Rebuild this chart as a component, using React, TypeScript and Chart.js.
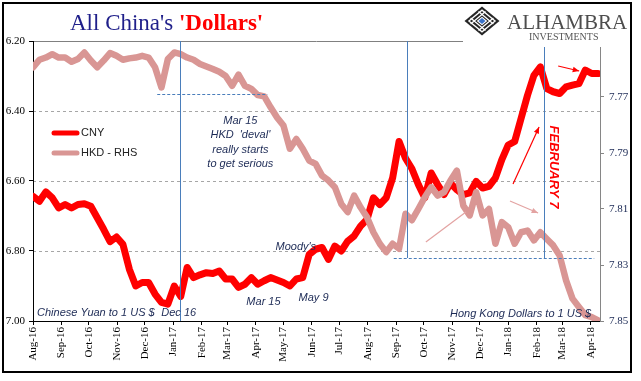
import React, { useEffect, useRef } from 'react';
import { Chart, registerables } from 'chart.js';
Chart.register(...registerables);

// ---------- DATA ----------
const weekDates = [
  '2016-08-01','2016-08-08','2016-08-15','2016-08-22','2016-08-29',
  '2016-09-05','2016-09-12','2016-09-19','2016-09-26',
  '2016-10-03','2016-10-10','2016-10-17','2016-10-24','2016-10-31',
  '2016-11-07','2016-11-14','2016-11-21','2016-11-28',
  '2016-12-05','2016-12-12','2016-12-19','2016-12-26',
  '2017-01-02','2017-01-09','2017-01-16','2017-01-23','2017-01-30',
  '2017-02-06','2017-02-13','2017-02-20','2017-02-27',
  '2017-03-06','2017-03-13','2017-03-20','2017-03-27',
  '2017-04-03','2017-04-10','2017-04-17','2017-04-24',
  '2017-05-01','2017-05-08','2017-05-15','2017-05-22','2017-05-29',
  '2017-06-05','2017-06-12','2017-06-19','2017-06-26',
  '2017-07-03','2017-07-10','2017-07-17','2017-07-24','2017-07-31',
  '2017-08-07','2017-08-14','2017-08-21','2017-08-28',
  '2017-09-04','2017-09-11','2017-09-18','2017-09-25',
  '2017-10-02','2017-10-09','2017-10-16','2017-10-23','2017-10-30',
  '2017-11-06','2017-11-13','2017-11-20','2017-11-27',
  '2017-12-04','2017-12-11','2017-12-18','2017-12-25',
  '2018-01-01','2018-01-08','2018-01-15','2018-01-22','2018-01-29',
  '2018-02-05','2018-02-12','2018-02-19','2018-02-26',
  '2018-03-05','2018-03-12','2018-03-19','2018-03-26',
  '2018-04-02','2018-04-09',
];

const cnyValues = [
  6.644, 6.658, 6.631, 6.648, 6.677,
  6.667, 6.677, 6.667, 6.665,
  6.672, 6.705, 6.738, 6.773, 6.760,
  6.781, 6.852, 6.900, 6.890,
  6.890, 6.923, 6.947, 6.952,
  6.900, 6.930, 6.847, 6.876, 6.868,
  6.862, 6.864, 6.857, 6.880,
  6.880, 6.904, 6.895, 6.876,
  6.895, 6.885, 6.876, 6.883,
  6.890, 6.900, 6.880, 6.876, 6.810,
  6.795, 6.790, 6.824, 6.786,
  6.800, 6.772, 6.757, 6.729, 6.710,
  6.648, 6.667, 6.648, 6.591,
  6.487, 6.535, 6.565, 6.610,
  6.648, 6.577, 6.610, 6.639, 6.606,
  6.625, 6.639, 6.634, 6.601,
  6.620, 6.615, 6.591, 6.539,
  6.497, 6.487, 6.421, 6.355, 6.298,
  6.274, 6.336, 6.345, 6.350,
  6.331, 6.326, 6.322, 6.283,
  6.293, 6.293,
];

const hkdValues = [
  7.7594, 7.7567, 7.7559, 7.7547, 7.7559,
  7.7559, 7.7574, 7.7564, 7.7541,
  7.7570, 7.7594, 7.7570, 7.7543, 7.7553,
  7.7567, 7.7562, 7.7559, 7.7553,
  7.7559, 7.7594, 7.7666, 7.7564,
  7.7541, 7.7547, 7.7559, 7.7567, 7.7582,
  7.7591, 7.7600, 7.7610, 7.7625,
  7.7660, 7.7620, 7.7660, 7.7671,
  7.7693, 7.7698, 7.7737, 7.7773,
  7.7802, 7.7885, 7.7850, 7.7885, 7.7927,
  7.7939, 7.7981, 7.7998, 7.8022,
  7.8082, 7.8111, 7.8052, 7.8094, 7.8129,
  7.8183, 7.8224, 7.8254, 7.8224,
  7.8242, 7.8117, 7.8140, 7.8100,
  7.8058, 7.8022, 7.8052, 7.8040, 7.7998,
  7.7963, 7.8088, 7.8123, 7.8040,
  7.8123, 7.8100, 7.8224, 7.8147,
  7.8165, 7.8224, 7.8183, 7.8177, 7.8212,
  7.8183, 7.8207, 7.8230, 7.8266,
  7.8355, 7.8420, 7.8450, 7.8479,
  7.8486, 7.8498,
];

const monthTickDates = [
  '2016-08-01','2016-09-01','2016-10-01','2016-11-01','2016-12-01',
  '2017-01-01','2017-02-01','2017-03-01','2017-04-01','2017-05-01','2017-06-01',
  '2017-07-01','2017-08-01','2017-09-01','2017-10-01','2017-11-01','2017-12-01',
  '2018-01-01','2018-02-01','2018-03-01','2018-04-01',
];
const monthLabels = [
  'Aug-16','Sep-16','Oct-16','Nov-16','Dec-16',
  'Jan-17','Feb-17','Mar-17','Apr-17','May-17','Jun-17',
  'Jul-17','Aug-17','Sep-17','Oct-17','Nov-17','Dec-17',
  'Jan-18','Feb-18','Mar-18','Apr-18',
];
const leftTicks = [6.2, 6.4, 6.6, 6.8, 7.0];
const leftDashedGrid = [6.4, 6.6, 6.8];
const rightTicks = [7.77, 7.79, 7.81, 7.83, 7.85];

const AXIS_START = '2016-08-01';
const AXIS_END = '2018-04-11';

// ---------- helpers ----------
const ORIGIN = Date.UTC(2016, 7, 1);
function dayOf(iso: string): number {
  const [y, m, d] = iso.split('-').map(Number);
  return (Date.UTC(y, m - 1, d) - ORIGIN) / 86400000;
}

const SERIF = "'Liberation Serif', 'Times New Roman', serif";
const SANS = "'Liberation Sans', Arial, sans-serif";
const BLUE = '#4a7ebb';
const NAVY = '#1c2a55';
const RED = '#ff0000';
const PINK = '#d99694';

function arrow(ctx: CanvasRenderingContext2D, x1: number, y1: number, x2: number, y2: number, color: string, head: number) {
  ctx.save();
  ctx.strokeStyle = color;
  ctx.fillStyle = color;
  ctx.lineWidth = 1.2;
  ctx.beginPath();
  ctx.moveTo(x1, y1);
  ctx.lineTo(x2, y2);
  ctx.stroke();
  if (head > 0) {
    const ang = Math.atan2(y2 - y1, x2 - x1);
    ctx.beginPath();
    ctx.moveTo(x2, y2);
    ctx.lineTo(x2 - head * Math.cos(ang - 0.4), y2 - head * Math.sin(ang - 0.4));
    ctx.lineTo(x2 - head * Math.cos(ang + 0.4), y2 - head * Math.sin(ang + 0.4));
    ctx.closePath();
    ctx.fill();
  }
  ctx.restore();
}

function drawLogo(ctx: CanvasRenderingContext2D) {
  ctx.save();
  ctx.fillStyle = '#fff';
  ctx.fillRect(463, 4, 167, 43);
  const cx = 482, cy = 21, hw = 17.5, hh = 14.5;
  const pt = (u: number, v: number): [number, number] => [cx + ((u + v) / 2) * hw, cy + ((u - v) / 2) * hh];
  const diamond = (s: number) => {
    ctx.beginPath();
    const p = [pt(s, s), pt(s, -s), pt(-s, -s), pt(-s, s)];
    ctx.moveTo(p[0][0], p[0][1]);
    for (let i = 1; i < 4; i++) ctx.lineTo(p[i][0], p[i][1]);
    ctx.closePath();
  };
  ctx.fillStyle = '#262626';
  diamond(1);
  ctx.fill();
  ctx.strokeStyle = '#fff';
  ctx.lineWidth = 1.3;
  for (const t of [-0.45, 0.45]) {
    ctx.beginPath();
    let a = pt(t, -0.85), b = pt(t, 0.85);
    ctx.moveTo(a[0], a[1]); ctx.lineTo(b[0], b[1]);
    a = pt(-0.85, t); b = pt(0.85, t);
    ctx.moveTo(a[0], a[1]); ctx.lineTo(b[0], b[1]);
    ctx.stroke();
  }
  diamond(0.75); ctx.stroke();
  ctx.fillStyle = '#fff';
  diamond(0.3); ctx.fill();
  ctx.fillStyle = '#3a72c8';
  diamond(0.2); ctx.fill();

  ctx.fillStyle = '#4d4d4d';
  ctx.textBaseline = 'alphabetic';
  ctx.textAlign = 'left';
  ctx.font = `21px ${SERIF}`;
  ctx.fillText('ALHAMBRA', 507, 28.5);
  ctx.font = `10px ${SERIF}`;
  ctx.fillStyle = '#555';
  ctx.fillText('INVESTMENTS', 529, 40);
  ctx.restore();
}

const overlayPlugin = {
  id: 'overlay',
  beforeDraw(chart: any) {
    const { ctx, width, height, chartArea: a, scales } = chart;
    ctx.save();
    ctx.fillStyle = '#fff';
    ctx.fillRect(0, 0, width, height);
    ctx.strokeStyle = '#a6a6a6';
    ctx.lineWidth = 1;
    ctx.setLineDash([3, 3]);
    for (const v of leftDashedGrid) {
      const py = Math.round(scales.y.getPixelForValue(v)) + 0.5;
      ctx.beginPath();
      ctx.moveTo(a.left, py);
      ctx.lineTo(a.right, py);
      ctx.stroke();
    }
    ctx.setLineDash([]);
    ctx.strokeStyle = '#808080';
    const pt = Math.round(scales.y.getPixelForValue(leftTicks[0])) + 0.5;
    ctx.beginPath();
    ctx.moveTo(a.left, pt);
    ctx.lineTo(a.right, pt);
    ctx.stroke();
    ctx.restore();
  },
  afterDatasetsDraw(chart: any) {
    const { ctx, chartArea: a, scales } = chart;
    const X = (d: number) => scales.x.getPixelForValue(d);
    const YC = (v: number) => scales.y.getPixelForValue(v);
    const YH = (v: number) => scales.y2.getPixelForValue(v);
    ctx.save();
    // blue reference lines
    ctx.strokeStyle = BLUE;
    ctx.lineWidth = 1;
    const vline = (d: number, y1: number, y2: number) => {
      const px = Math.round(X(d)) + 0.5;
      ctx.beginPath(); ctx.moveTo(px, y1); ctx.lineTo(px, y2); ctx.stroke();
    };
    vline(160.6, a.top, a.bottom);
    vline(408, a.top, YH(7.8275));
    vline(557, a.top, YH(7.8275));
    ctx.setLineDash([3, 2]);
    const hline = (v: number, d1: number, d2: number) => {
      const py = Math.round(YH(v)) + 0.5;
      ctx.beginPath(); ctx.moveTo(X(d1), py); ctx.lineTo(X(d2), py); ctx.stroke();
    };
    hline(7.7689, 135.4, 255.6);
    hline(7.8275, 393.2, 611.7);
    ctx.setLineDash([]);

    // arrows
    arrow(ctx, X(572.4), YC(6.2714), X(595.3), YC(6.2857), RED, 7);
    arrow(ctx, X(523.2), YC(6.6086), X(551.6), YC(6.4457), RED, 7);
    arrow(ctx, X(519.9), YC(6.6571), X(550.5), YC(6.6914), '#e3a3a2', 7);
    arrow(ctx, X(428.2), YC(6.7743), X(471.9), YC(6.6886), '#e3a3a2', 0);

    // annotation texts
    ctx.fillStyle = NAVY;
    ctx.font = `italic 11px ${SANS}`;
    ctx.textBaseline = 'middle';
    ctx.textAlign = 'center';
    const block = ['Mar 15', "HKD  'deval'", 'really starts', 'to get serious'];
    const blockY = [6.4286, 6.4686, 6.5114, 6.5514];
    block.forEach((t, i) => ctx.fillText(t, X(226), YC(blockY[i])));
    ctx.fillText('Mar 15', X(251.2), YC(6.9457));
    ctx.fillText('May 9', X(305.8), YC(6.9343));
    ctx.textAlign = 'left';
    ctx.fillText("Moody's", X(264.3), YC(6.7886));
    ctx.fillText('Chinese Yuan to 1 US $', X(4.4), YC(6.977));
    ctx.fillText('Dec 16', X(139.8), YC(6.977));
    ctx.textAlign = 'right';
    ctx.fillText('Hong Kong Dollars to 1 US $', X(608.4), YC(6.98));

    // FEBRUARY 7
    ctx.save();
    ctx.translate(X(566.9), YC(6.56));
    ctx.rotate(Math.PI / 2);
    ctx.textAlign = 'center';
    ctx.textBaseline = 'middle';
    ctx.fillStyle = RED;
    ctx.font = `italic bold 13px ${SANS}`;
    ctx.fillText('FEBRUARY 7', 0, 0);
    ctx.restore();
    ctx.restore();
  },
  afterDraw(chart: any) {
    const { ctx } = chart;
    ctx.save();
    drawLogo(ctx);

    // title
    ctx.textBaseline = 'alphabetic';
    ctx.textAlign = 'left';
    ctx.font = `23px ${SERIF}`;
    ctx.fillStyle = '#1f1f8a';
    const p1 = "All China's ";
    ctx.fillText(p1, 70, 30);
    const w1 = ctx.measureText(p1).width;
    ctx.font = `bold 23px ${SERIF}`;
    ctx.fillStyle = RED;
    ctx.fillText("'Dollars'", 70 + w1, 30);

    // legend
    ctx.lineCap = 'round';
    ctx.lineWidth = 5;
    ctx.strokeStyle = RED;
    ctx.beginPath(); ctx.moveTo(54, 133); ctx.lineTo(77, 133); ctx.stroke();
    ctx.strokeStyle = PINK;
    ctx.beginPath(); ctx.moveTo(54, 153); ctx.lineTo(77, 153); ctx.stroke();
    ctx.fillStyle = '#222';
    ctx.font = `11px ${SANS}`;
    ctx.textBaseline = 'middle';
    ctx.fillText('CNY', 81, 133);
    ctx.fillText('HKD - RHS', 81, 153);

    // frame
    ctx.lineCap = 'butt';
    ctx.strokeStyle = '#000';
    ctx.lineWidth = 2;
    ctx.strokeRect(3, 3, 628, 369);
    ctx.restore();
  },
};

export default function App() {
  const ref = useRef<HTMLCanvasElement | null>(null);
  useEffect(() => {
    if (!ref.current) return;
    const chart = new Chart(ref.current, {
      type: 'line',
      data: {
        datasets: [
          {
            label: 'CNY',
            data: weekDates.map((d, i) => ({ x: dayOf(d), y: cnyValues[i] })),
            yAxisID: 'y',
            borderColor: RED,
            backgroundColor: RED,
            borderWidth: 7,
            pointRadius: 0,
            tension: 0,
            borderJoinStyle: 'round',
            borderCapStyle: 'round',
            order: 2,
          },
          {
            label: 'HKD - RHS',
            data: weekDates.map((d, i) => ({ x: dayOf(d), y: hkdValues[i] })),
            yAxisID: 'y2',
            borderColor: PINK,
            backgroundColor: PINK,
            borderWidth: 6.5,
            pointRadius: 0,
            tension: 0,
            borderJoinStyle: 'round',
            borderCapStyle: 'round',
            order: 1,
          },
        ],
      },
      options: {
        responsive: false,
        animation: false,
        events: [],
        layout: { padding: { top: 41, left: 0, right: 0, bottom: 0 } },
        plugins: { legend: { display: false }, tooltip: { enabled: false }, title: { display: false } },
        scales: {
          x: {
            type: 'linear',
            position: 'bottom',
            min: dayOf(AXIS_START),
            max: dayOf(AXIS_END),
            afterBuildTicks: (s: any) => { s.ticks = monthTickDates.map((d) => ({ value: dayOf(d) })); },
            afterFit: (s: any) => { s.height = 60; },
            grid: { drawOnChartArea: false, drawTicks: true, tickLength: 4, color: '#000' },
            border: { display: true, color: '#000', width: 1 },
            ticks: {
              autoSkip: false,
              minRotation: 90,
              maxRotation: 90,
              padding: 2,
              color: '#000',
              font: { family: SERIF, size: 11 },
              callback: (_v: any, i: number) => monthLabels[i],
            },
          },
          y: {
            type: 'linear',
            position: 'left',
            reverse: true,
            min: 6.2,
            max: 7.0,
            afterBuildTicks: (s: any) => { s.ticks = leftTicks.map((v) => ({ value: v })); },
            afterFit: (s: any) => { s.width = 33; },
            grid: { drawOnChartArea: false, drawTicks: true, tickLength: 4, color: '#000' },
            border: { display: true, color: '#000', width: 1 },
            ticks: {
              padding: 4,
              color: '#000',
              font: { family: SERIF, size: 11 },
              callback: (v: any) => Number(v).toFixed(2),
            },
          },
          y2: {
            type: 'linear',
            position: 'right',
            reverse: true,
            min: 7.75,
            max: 7.85,
            afterBuildTicks: (s: any) => { s.ticks = rightTicks.map((v) => ({ value: v })); },
            afterFit: (s: any) => { s.width = 41; },
            grid: { drawOnChartArea: false, drawTicks: true, tickLength: 4, color: '#868686' },
            border: { display: true, color: '#868686', width: 1 },
            ticks: {
              padding: 5,
              color: NAVY,
              font: { family: SERIF, size: 11 },
              callback: (v: any) => Number(v).toFixed(2),
            },
          },
        },
      },
      plugins: [overlayPlugin],
    } as any);
    return () => chart.destroy();
  }, []);
  return (
    <div style={{ position: 'fixed', left: 0, top: 0, width: 641, height: 381, background: '#fff' }}>
      <canvas ref={ref} width={641} height={381} style={{ display: 'block', width: 641, height: 381 }} />
    </div>
  );
}
